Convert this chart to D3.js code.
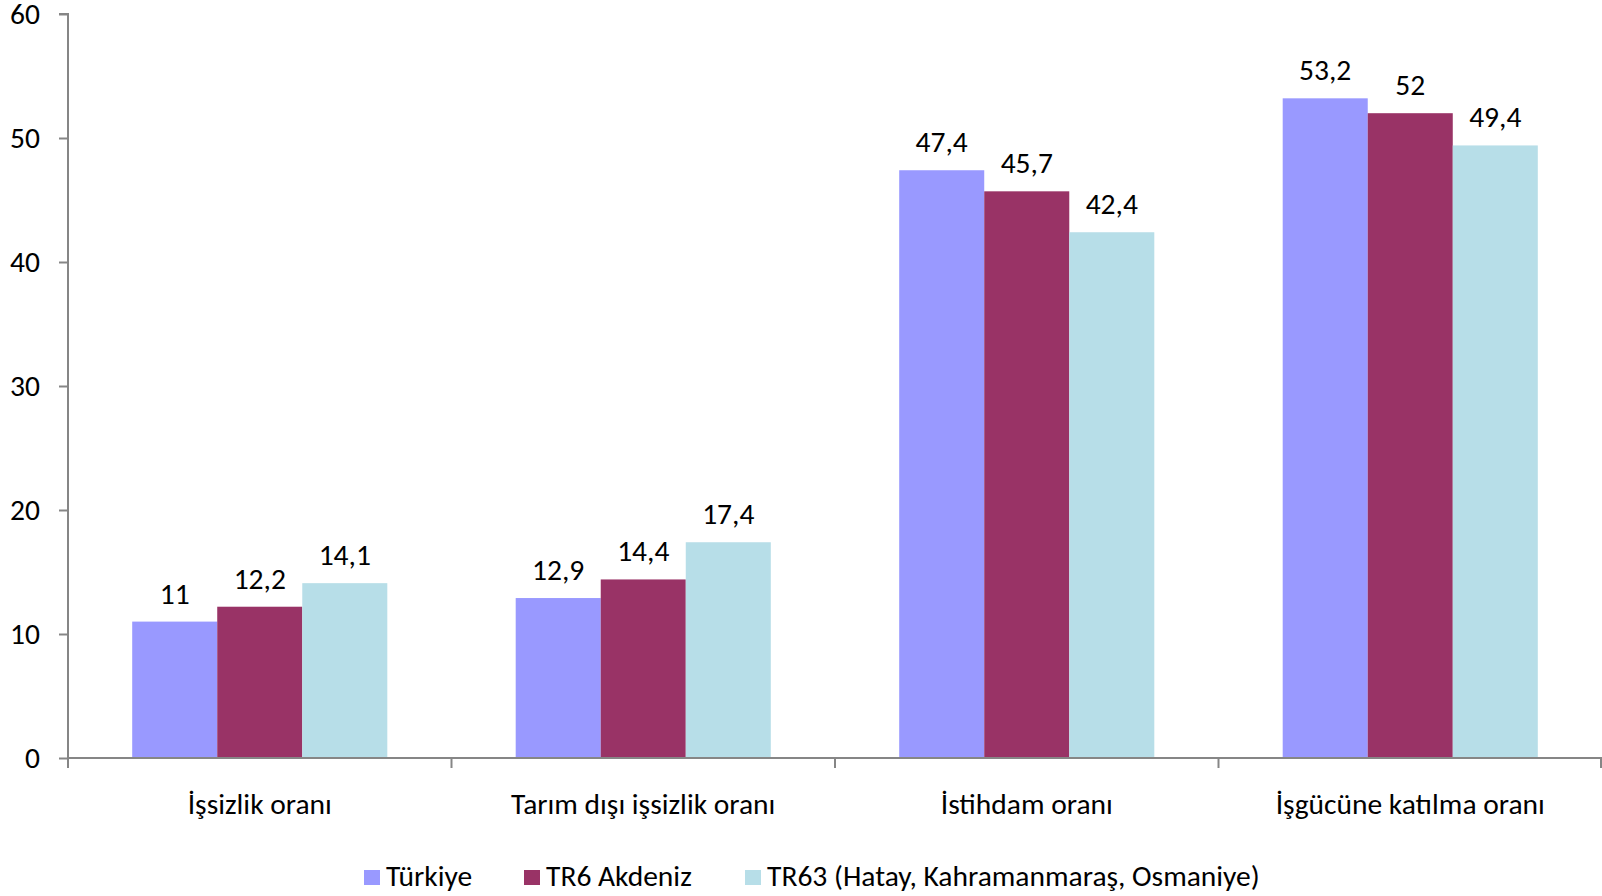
<!DOCTYPE html>
<html>
<head>
<meta charset="utf-8">
<script src="https://cdn.jsdelivr.net/npm/d3@7"></script>
<style>
  body { margin: 0; background: #fff; }
  text { font-family: Carlito, Calibri, "Open Sans", sans-serif; fill: #000; }
</style>
</head>
<body>
<script>
var categories = ["İşsizlik oranı", "Tarım dışı işsizlik oranı", "İstihdam oranı", "İşgücüne katılma oranı"];
var seriesNames = ["Türkiye", "TR6 Akdeniz", "TR63 (Hatay, Kahramanmaraş, Osmaniye)"];
var turkiye = [11, 12.9, 47.4, 53.2];
var akdeniz = [12.2, 14.4, 45.7, 52];
var tr63 = [14.1, 17.4, 42.4, 49.4];
var yTicks = [0, 10, 20, 30, 40, 50, 60];
var colors = ["#9999ff", "#993366", "#b7dee8"];

var W = 1602, H = 896;
var margin = {top: 14, right: 0, bottom: 138, left: 68};
var fontSize = "29.5px";

var svg = d3.select("body").append("svg")
    .attr("width", W)
    .attr("height", H);

var x0 = d3.scaleBand()
    .domain(categories)
    .range([margin.left, W - margin.right])
    .paddingInner(0)
    .paddingOuter(0);

var x1 = d3.scaleBand()
    .domain(d3.range(seriesNames.length))
    .range([0, x0.bandwidth()])
    .paddingOuter(0.755)
    .paddingInner(0);

var y = d3.scaleLinear()
    .domain([0, 60])
    .range([H - margin.bottom, margin.top]);

var series = [turkiye, akdeniz, tr63];
var fmt = function(v) { return String(v).replace(".", ","); };

// bars
var groups = svg.selectAll(".grp")
    .data(categories)
  .enter().append("g")
    .attr("class", "grp")
    .attr("transform", function(d) { return "translate(" + x0(d) + ",0)"; });

groups.selectAll("rect")
    .data(function(d, i) { return series.map(function(s, j) { return {j: j, v: s[i]}; }); })
  .enter().append("rect")
    .attr("x", function(d) { return x1(d.j); })
    .attr("y", function(d) { return y(d.v); })
    .attr("width", x1.bandwidth())
    .attr("height", function(d) { return y(0) - y(d.v); })
    .style("fill", function(d) { return colors[d.j]; });

groups.selectAll(".lbl")
    .data(function(d, i) { return series.map(function(s, j) { return {j: j, v: s[i]}; }); })
  .enter().append("text")
    .attr("class", "lbl")
    .attr("x", function(d) { return x1(d.j) + x1.bandwidth() / 2; })
    .attr("y", function(d) { return y(d.v) - 18; })
    .attr("text-anchor", "middle")
    .style("font-size", fontSize)
    .text(function(d) { return fmt(d.v); });

// y axis
var yAxis = d3.axisLeft(y).tickValues(yTicks).tickSize(9).tickPadding(19);
var gy = svg.append("g")
    .attr("transform", "translate(" + margin.left + ",0)")
    .call(yAxis);
gy.selectAll("line, path").style("stroke", "#868686").style("stroke-width", 2);
gy.select("path").attr("d", "M-9," + y(60) + "H0V" + y(0));
gy.selectAll("text").style("font-size", fontSize).style("font-family", "Carlito, Calibri, 'Open Sans', sans-serif");

// x axis
var xAxis = d3.axisBottom(x0).tickSize(0).tickPadding(0).tickFormat("");
var gx = svg.append("g")
    .attr("transform", "translate(0," + y(0) + ")")
    .call(xAxis);
gx.select("path").attr("d", "M" + margin.left + ",0H" + W).style("stroke", "#868686").style("stroke-width", 2);
var bounds = categories.map(function(c) { return x0(c); }).concat([W - 1]);
gx.selectAll(".bnd")
    .data(bounds)
  .enter().append("line")
    .attr("class", "bnd")
    .attr("x1", function(d) { return d; })
    .attr("x2", function(d) { return d; })
    .attr("y1", 0)
    .attr("y2", 10)
    .style("stroke", "#868686")
    .style("stroke-width", 2);

svg.selectAll(".cat")
    .data(categories)
  .enter().append("text")
    .attr("class", "cat")
    .attr("x", function(d) { return x0(d) + x0.bandwidth() / 2; })
    .attr("y", y(0) + 56)
    .attr("text-anchor", "middle")
    .style("font-size", fontSize)
    .text(function(d) { return d; });

// legend
var legX = [364, 524, 745];
var leg = svg.selectAll(".leg")
    .data(seriesNames)
  .enter().append("g")
    .attr("class", "leg")
    .attr("transform", function(d, i) { return "translate(" + legX[i] + ",870)"; });
leg.append("rect")
    .attr("width", 16)
    .attr("height", 15)
    .style("fill", function(d, i) { return colors[i]; });
leg.append("text")
    .attr("x", 22)
    .attr("y", 16)
    .style("font-size", fontSize)
    .text(function(d) { return d; });
</script>
</body>
</html>
